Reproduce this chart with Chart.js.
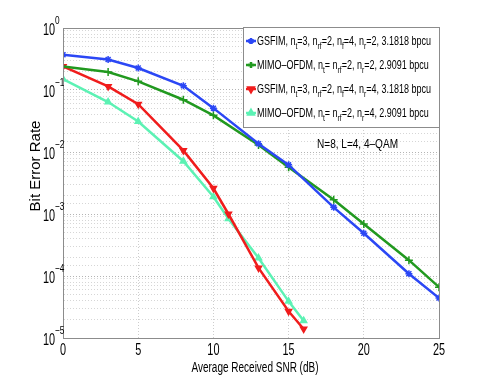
<!DOCTYPE html>
<html>
<head>
<meta charset="utf-8">
<script src="https://cdn.jsdelivr.net/npm/chart.js@4.4.1/dist/chart.umd.min.js"></script>
<style>
    html, body { margin: 0; padding: 0; background: #fff; }
</style>
</head>
<body>
<canvas id="berChart" width="485" height="381"></canvas>
<script>
// SNR points (dB)
const snrLong = [0, 3, 5, 8, 10, 13, 15, 18, 20, 23, 25];
const snrShort = [0, 3, 5, 8, 10, 11, 13, 15, 16];

// BER
const gsfimNr2 = [0.37, 0.31, 0.226, 0.117, 0.051, 0.0136, 0.0062, 0.00128, 0.00049, 0.000109, 0.000044];
const ofdmNr2 = [0.24, 0.195, 0.138, 0.0697, 0.039, 0.013, 0.0057, 0.0017, 0.00069, 0.00018, 0.000066];
const gsfimNr4 = [0.24, 0.114, 0.059, 0.0106, 0.0026, 0.001, 0.000135, 0.000027, 0.000014];
const ofdmNr4 = [0.15, 0.064, 0.031, 0.0071, 0.0019, 0.00084, 0.000195, 0.000039, 0.000019];

// legend labels, {..} = subscript
const seriesLabels = [
    'GSFIM, n{t}=3, n{rf}=2, n{f}=4, n{r}=2, 3.1818 bpcu',
    'MIMO\u2013OFDM, n{t}= n{rf}=2, n{r}=2, 2.9091 bpcu',
    'GSFIM, n{t}=3, n{rf}=2, n{f}=4, n{r}=4, 3.1818 bpcu',
    'MIMO\u2013OFDM, n{t}= n{rf}=2, n{r}=4, 2.9091 bpcu'
];
const seriesColors = ['#2b47f5', '#21991f', '#f01c1c', '#5cf2b4'];
const xTicks = [0, 5, 10, 15, 20, 25];
const yExponents = [0, -1, -2, -3, -4, -5];

const sans = "'Liberation Sans', Arial, sans-serif";

function pairs(xs, ys) {
    return xs.map((x, i) => ({ x: x, y: ys[i] }));
}

function isDecade(v) {
    const l = Math.log10(v);
    return Math.abs(l - Math.round(l)) < 1e-6;
}

// horizontally squeezed text, helvetica-narrow look
function narrowText(ctx, text, x, y, size, k, align) {
    ctx.font = size + 'px ' + sans;
    const w = ctx.measureText(text).width * k;
    let x0 = x;
    if (align === 'center') x0 = x - w / 2;
    if (align === 'right') x0 = x - w;
    ctx.save();
    ctx.translate(x0, y);
    ctx.scale(k, 1);
    ctx.textAlign = 'left';
    ctx.fillText(text, 0, 0);
    ctx.restore();
    return w;
}

function richParts(text) {
    return text.split(/(\{[^}]*\})/).filter(p => p);
}

function richWidth(ctx, text, size) {
    let w = 0;
    richParts(text).forEach(p => {
        if (p[0] === '{') {
            ctx.font = (size * 0.75) + 'px ' + sans;
            w += ctx.measureText(p.slice(1, -1)).width;
        } else {
            ctx.font = size + 'px ' + sans;
            w += ctx.measureText(p).width;
        }
    });
    return w;
}

// text with {sub} parts lowered, squeezed by k
function drawRich(ctx, text, x, y, size, k) {
    ctx.save();
    ctx.translate(x, y);
    ctx.scale(k, 1);
    ctx.textAlign = 'left';
    let cx = 0;
    richParts(text).forEach(p => {
        if (p[0] === '{') {
            const s = p.slice(1, -1);
            ctx.font = (size * 0.75) + 'px ' + sans;
            ctx.fillText(s, cx, 4);
            cx += ctx.measureText(s).width;
        } else {
            ctx.font = size + 'px ' + sans;
            ctx.fillText(p, cx, 0);
            cx += ctx.measureText(p).width;
        }
    });
    ctx.restore();
}

const extras = {
    id: 'extras',
    afterDraw(chart) {
        const ctx = chart.ctx;
        const area = chart.chartArea;
        const xs = chart.scales.x;
        const ys = chart.scales.y;
        ctx.save();

        // box round the plot
        ctx.strokeStyle = '#8c8c8c';
        ctx.lineWidth = 1;
        ctx.strokeRect(area.left + 0.5, area.top + 0.5, area.right - area.left, area.bottom - area.top);

        ctx.fillStyle = '#000';
        ctx.textBaseline = 'alphabetic';

        // y tick labels with exponents
        yExponents.forEach(e => {
            const py = ys.getPixelForValue(Math.pow(10, e));
            narrowText(ctx, '10', 55, py + 7, 16, 0.68, 'right');
            narrowText(ctx, e === 0 ? '0' : '\u2212' + Math.abs(e), 55, py - 4, 11, 0.75, 'left');
        });

        // x tick labels
        xTicks.forEach(v => {
            narrowText(ctx, String(v), xs.getPixelForValue(v), 355, 16, 0.68, 'center');
        });

        // axis titles
        ctx.font = '14px ' + sans;
        const tw = ctx.measureText('Average Received SNR (dB)').width;
        narrowText(ctx, 'Average Received SNR (dB)', 255, 372, 14, 127 / tw, 'center');
        ctx.save();
        ctx.translate(40, 166);
        ctx.rotate(-Math.PI / 2);
        ctx.textAlign = 'center';
        ctx.font = '15px ' + sans;
        ctx.fillText('Bit Error Rate', 0, 0);
        ctx.restore();

        // annotation
        ctx.font = '13px ' + sans;
        const aw = ctx.measureText('N=8, L=4, 4\u2013QAM').width;
        narrowText(ctx, 'N=8, L=4, 4\u2013QAM', 317, 148, 13, 81 / aw, 'left');

        // legend box
        const lx = 243, ly = 27, lw = 196, lh = 100;
        ctx.fillStyle = '#fff';
        ctx.fillRect(lx, ly, lw, lh);
        ctx.strokeStyle = '#8c8c8c';
        ctx.lineWidth = 1;
        ctx.strokeRect(lx + 0.5, ly + 0.5, lw, lh);
        const k = 174 / richWidth(ctx, seriesLabels[0], 13);
        const rows = [41, 65, 89, 113];
        chart.data.datasets.forEach((ds, i) => {
            const ry = rows[i];
            ctx.strokeStyle = ds.borderColor;
            ctx.lineWidth = 2.5;
            ctx.beginPath();
            ctx.moveTo(lx + 3, ry);
            ctx.lineTo(lx + 13, ry);
            ctx.stroke();
            ctx.fillStyle = ds.backgroundColor;
            Chart.helpers.drawPoint(ctx, {
                pointStyle: ds.pointStyle,
                radius: 3,
                rotation: ds.pointRotation || 0,
                borderWidth: 2
            }, lx + 8, ry);
            ctx.fillStyle = '#000';
            drawRich(ctx, seriesLabels[i], lx + 14, ry + 4, 13, k);
        });
        ctx.restore();
    }
};

const ctx = document.getElementById('berChart').getContext('2d');
const berChart = new Chart(ctx, {
    type: 'line',
    data: {
        datasets: [
            {
                label: seriesLabels[0],
                data: pairs(snrLong, gsfimNr2),
                borderColor: seriesColors[0],
                backgroundColor: seriesColors[0],
                pointStyle: 'star',
                pointRadius: 3.5
            },
            {
                label: seriesLabels[1],
                data: pairs(snrLong, ofdmNr2),
                borderColor: seriesColors[1],
                backgroundColor: seriesColors[1],
                pointStyle: 'cross',
                pointRadius: 4
            },
            {
                label: seriesLabels[2],
                data: pairs(snrShort, gsfimNr4),
                borderColor: seriesColors[2],
                backgroundColor: seriesColors[2],
                pointStyle: 'triangle',
                pointRotation: 180,
                pointRadius: 3.5
            },
            {
                label: seriesLabels[3],
                data: pairs(snrShort, ofdmNr4),
                borderColor: seriesColors[3],
                backgroundColor: seriesColors[3],
                pointStyle: 'triangle',
                pointRadius: 3.5
            }
        ]
    },
    options: {
        responsive: false,
        animation: false,
        layout: { padding: { left: 0, top: 28, right: 46, bottom: 0 } },
        elements: {
            line: { borderWidth: 2.5, tension: 0 },
            point: { borderWidth: 1.5 }
        },
        plugins: {
            legend: { display: false },
            tooltip: { enabled: false }
        },
        scales: {
            x: {
                type: 'linear',
                min: 0,
                max: 25,
                afterBuildTicks: scale => { scale.ticks = xTicks.map(v => ({ value: v })); },
                afterFit: scale => { scale.height = 43; },
                ticks: { callback: () => '' },
                grid: {
                    color: '#cdcdcd',
                    drawTicks: false
                },
                border: { color: '#8c8c8c', width: 1, dash: [1, 2] }
            },
            y: {
                type: 'logarithmic',
                min: 1e-5,
                max: 1,
                afterFit: scale => { scale.width = 63; },
                ticks: {
                    callback: () => '',
                    autoSkip: false
                },
                grid: {
                    color: c => (c.tick && isDecade(c.tick.value)) ? '#b4b4b4' : '#d6d6d6',
                    drawTicks: false
                },
                border: { color: '#8c8c8c', width: 1, dash: [1, 2] }
            }
        }
    },
    plugins: [extras]
});
</script>
</body>
</html>
